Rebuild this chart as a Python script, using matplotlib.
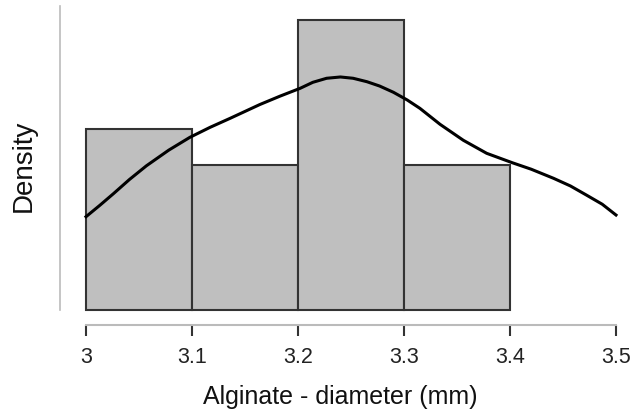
import matplotlib
matplotlib.use("Agg")
import matplotlib.pyplot as plt

plt.rcParams['font.family'] = ['Liberation Sans', 'DejaVu Sans']

# Histogram (density scale), bin edges 3.0 .. 3.4
bin_left   = [3.0, 3.1, 3.2, 3.3]
bin_width  = 0.1
counts     = [5, 4, 8, 4]
n_total    = sum(counts)
density    = [c / (n_total * bin_width) for c in counts]

# Density curve
curve_x = [3.000, 3.013, 3.026, 3.041, 3.057, 3.078, 3.098, 3.117, 3.136,
           3.164, 3.183, 3.202, 3.214, 3.227, 3.240, 3.252, 3.265, 3.277,
           3.290, 3.303, 3.315, 3.334, 3.356, 3.378, 3.402, 3.420, 3.441,
           3.457, 3.472, 3.487, 3.500]
curve_y = [1.226, 1.375, 1.530, 1.715, 1.895, 2.100, 2.269, 2.400, 2.519,
           2.700, 2.810, 2.913, 2.992, 3.045, 3.062, 3.045, 3.000, 2.943,
           2.861, 2.760, 2.650, 2.440, 2.230, 2.059, 1.936, 1.850, 1.731,
           1.630, 1.511, 1.390, 1.248]

xticks = [3.0, 3.1, 3.2, 3.3, 3.4, 3.5]
xtick_labels = ["3", "3.1", "3.2", "3.3", "3.4", "3.5"]

fig = plt.figure(figsize=(6.37, 4.19), dpi=100)
ax = fig.add_axes([60/637, (419-325)/419, 560/637, 319/419])

ax.bar(bin_left, density, width=bin_width, align='edge',
       color='#bfbfbf', edgecolor='#333333', linewidth=1.5, zorder=2)
ax.plot(curve_x, curve_y, color='black', linewidth=2.2, zorder=3,
        solid_joinstyle='round')

ax.set_xlim(3 - 26/1060, 3.5 + 4/1060)
ax.set_ylim(-15/76.1, 304/76.1)

for s in ['top', 'right']:
    ax.spines[s].set_visible(False)
ax.spines['left'].set_color('#bbbbbb')
ax.spines['left'].set_linewidth(1.2)
ax.spines['left'].set_bounds(0, 304/76.1)
ax.spines['bottom'].set_color('#bbbbbb')
ax.spines['bottom'].set_linewidth(1.5)
ax.spines['bottom'].set_bounds(3.0, 3.5)

ax.set_yticks([])
ax.set_xticks(xticks)
ax.set_xticklabels(xtick_labels, fontsize=15.5, color='#222222')
ax.tick_params(axis='x', direction='out', length=8, width=1.5, color='#333333', pad=8)

ax.set_xlabel("Alginate - diameter (mm)", fontsize=18, color='#111111', labelpad=12)
ax.set_ylabel("Density", fontsize=20, color='#111111', labelpad=17)

fig.savefig("out.png", dpi=100)
